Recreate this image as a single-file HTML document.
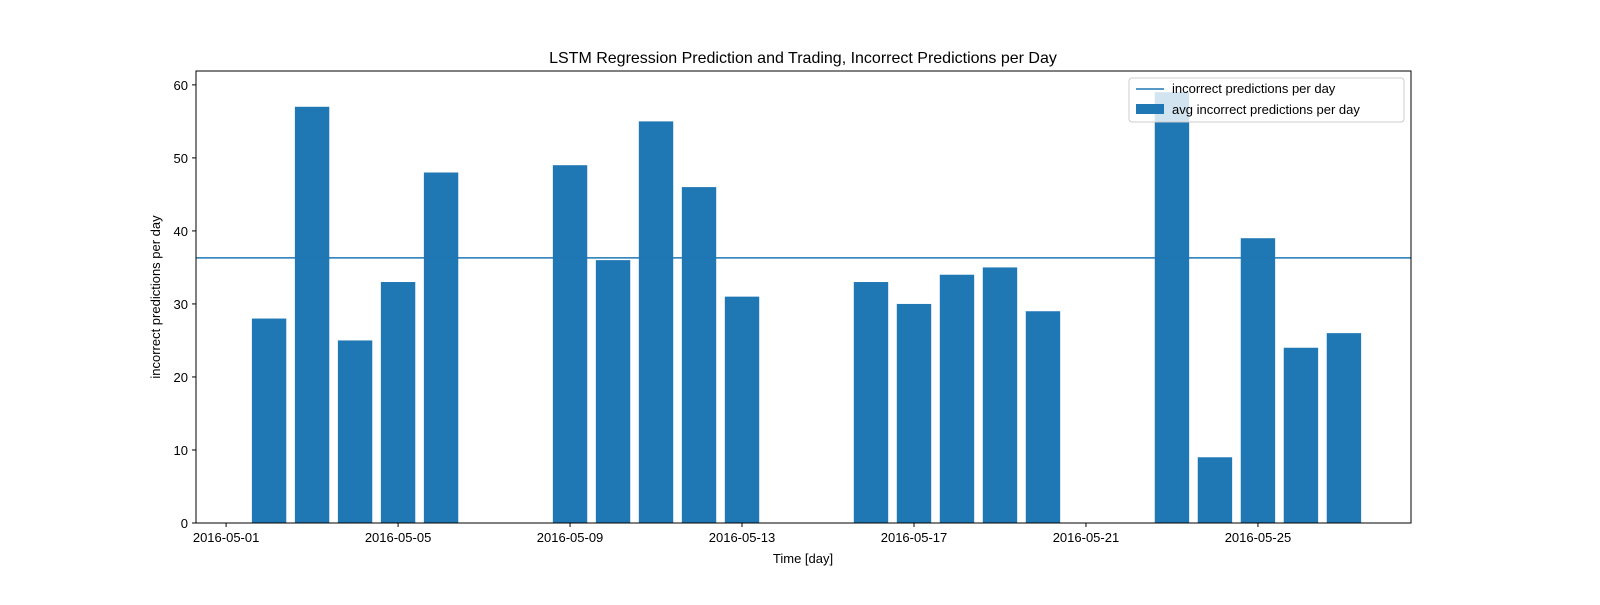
<!DOCTYPE html>
<html><head><meta charset="utf-8"><style>
body{margin:0;background:#fff;}
svg text{font-family:"Liberation Sans","DejaVu Sans",sans-serif;fill:#000;}
</style></head><body>
<svg id="chart" width="1600" height="600" xmlns="http://www.w3.org/2000/svg">
<rect width="1600" height="600" fill="#fff"/>
<text x="803" y="63" font-size="16" text-anchor="middle">LSTM Regression Prediction and Trading, Incorrect Predictions per Day</text>
<g id="bars"></g>
<g id="axes"></g>
<text x="803" y="563" font-size="13" text-anchor="middle">Time [day]</text>
<text x="0" y="0" font-size="13" text-anchor="middle" transform="translate(160,297) rotate(-90)">incorrect predictions per day</text>
<g>
<rect x="1129" y="78" width="275" height="44" fill="#fff" fill-opacity="0.8" stroke="#ccc" rx="3"/>
<line x1="1136" y1="89" x2="1164" y2="89" stroke="#1f77b4" stroke-width="1.5"/>
<text x="1172" y="93" font-size="13">incorrect predictions per day</text>
<rect x="1136" y="104" width="28" height="10" fill="#1f77b4"/>
<text x="1172" y="114" font-size="13">avg incorrect predictions per day</text>
</g>
</svg>
<script>
const days = [2,3,4,5,6,9,10,11,12,13,16,17,18,19,20,23,24,25,26,27];
const values = [28,57,25,33,48,49,36,55,46,31,33,30,34,35,29,59,9,39,24,26];
const xTickDays = [1,5,9,13,17,21,25];
const xTickLabels = ["2016-05-01","2016-05-05","2016-05-09","2016-05-13","2016-05-17","2016-05-21","2016-05-25"];
const yTicks = [0,10,20,30,40,50,60];

const L=196,R=1411,T=71,B=523;
const xMin=0.3,xMax=28.56,yMax=61.9;
const x=d=>L+(d-xMin)/(xMax-xMin)*(R-L);
const y=v=>B-v/yMax*(B-T);
const NS="http://www.w3.org/2000/svg";
function mk(tag,attrs,parent){const e=document.createElementNS(NS,tag);for(const k in attrs)e.setAttribute(k,attrs[k]);parent.appendChild(e);return e;}
const bars=document.getElementById('bars'),axes=document.getElementById('axes');
const bw=x(0.8)-x(0);
days.forEach((d,i)=>{
  const r=mk('rect',{x:x(d)-bw/2,y:y(values[i]),width:bw,height:B-y(values[i]),fill:'#1f77b4'},bars);
  
  
});
const mean=values.reduce((a,b)=>a+b,0)/values.length;
const ml=mk('line',{x1:L,x2:R,y1:y(mean),y2:y(mean),stroke:'#1f77b4','stroke-width':1.5},bars);


const frame=mk('rect',{x:L,y:T,width:R-L,height:B-T,fill:'none',stroke:'#000','stroke-width':1},axes);


xTickDays.forEach((d,i)=>{
  mk('line',{x1:x(d),x2:x(d),y1:B,y2:B+4,stroke:'#000'},axes);
  const t=mk('text',{x:x(d),y:B+19,'font-size':13,'text-anchor':'middle'},axes);
  t.textContent=xTickLabels[i];
  
  
});
yTicks.forEach(v=>{
  mk('line',{x1:L-4,x2:L,y1:y(v),y2:y(v),stroke:'#000'},axes);
  const t=mk('text',{x:L-8,y:y(v)+5,'font-size':13,'text-anchor':'end'},axes);
  t.textContent=v;
  
  
});
</script>
</body></html>
